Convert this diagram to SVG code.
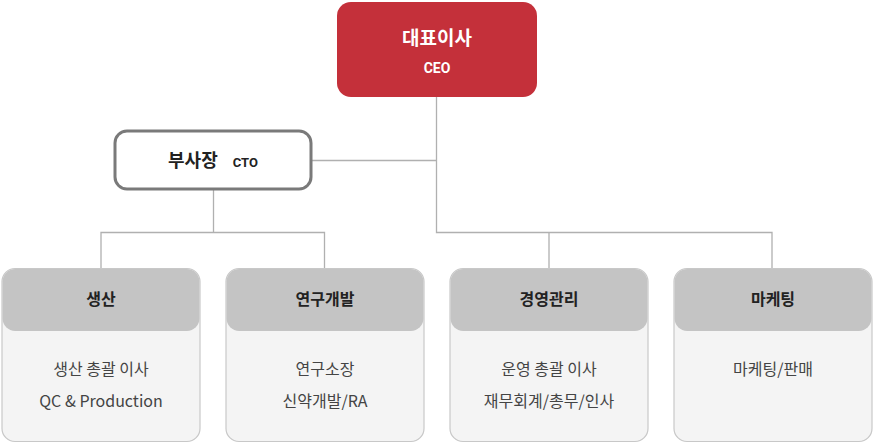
<svg xmlns="http://www.w3.org/2000/svg" width="873" height="444" viewBox="0 0 873 444">
<style>
.ln{stroke:#b0b0b0;stroke-width:1.3;fill:none}
.box{fill:#f4f4f4;stroke:#c8c8c8;stroke-width:1.2}
.hd{fill:#c4c4c4}
.ht{font-family:"Noto Sans CJK KR","Noto Sans",sans-serif;font-size:16px;font-weight:bold;fill:#222;text-anchor:middle}
.bt{font-family:"Noto Sans CJK KR","Noto Sans",sans-serif;font-size:16px;fill:#444;text-anchor:middle}
</style>
<rect width="873" height="444" fill="#fff"/>
<g id="connectors">
<path class="ln" d="M436.5 97V232.5H772V268M549 232.5V268M312 160.5H436.5M213.5 190V232.5M101 268V232.5H324.5V268"/>
</g>
<g id="ceo">
<rect x="337" y="2" width="200" height="95" rx="14" fill="#c4303a"/>
<text x="437" y="45" text-anchor="middle" font-family="'Noto Sans CJK KR','Noto Sans',sans-serif" font-size="19" font-weight="bold" fill="#fff">대표이사</text>
<text x="437" y="73" text-anchor="middle" font-family="Roboto,'Liberation Sans',sans-serif" font-size="14" font-weight="bold" fill="#fff">CEO</text>
</g>
<g id="cto">
<rect x="115" y="131" width="196" height="58" rx="12" fill="#fff" stroke="#7a7a7a" stroke-width="3"/>
<text x="213" y="167" text-anchor="middle" font-family="'Noto Sans CJK KR','Noto Sans',sans-serif" font-size="18" font-weight="bold" fill="#222">부사장<tspan font-family="Roboto,'Liberation Sans',sans-serif" font-size="13" dx="15">CTO</tspan></text>
</g>
<g id="production">
<rect class="box" x="2" y="268.5" width="198" height="173" rx="13"/>
<rect class="hd" x="2.6" y="269" width="196.8" height="62" rx="12.5"/>
<text class="ht" x="101" y="305">생산</text>
<text class="bt" x="101" y="375">생산 총괄 이사</text>
<text class="bt" x="101" y="407">QC &amp; Production</text>
</g>
<g id="rnd">
<rect class="box" x="226" y="268.5" width="198" height="173" rx="13"/>
<rect class="hd" x="226.6" y="269" width="196.8" height="62" rx="12.5"/>
<text class="ht" x="325" y="305">연구개발</text>
<text class="bt" x="325" y="375">연구소장</text>
<text class="bt" x="325" y="407">신약개발/RA</text>
</g>
<g id="management">
<rect class="box" x="450" y="268.5" width="198" height="173" rx="13"/>
<rect class="hd" x="450.6" y="269" width="196.8" height="62" rx="12.5"/>
<text class="ht" x="549" y="305">경영관리</text>
<text class="bt" x="549" y="375">운영 총괄 이사</text>
<text class="bt" x="549" y="407">재무회계/총무/인사</text>
</g>
<g id="marketing">
<rect class="box" x="674" y="268.5" width="198" height="173" rx="13"/>
<rect class="hd" x="674.6" y="269" width="196.8" height="62" rx="12.5"/>
<text class="ht" x="773" y="305">마케팅</text>
<text class="bt" x="773" y="375">마케팅/판매</text>
</g>
</svg>
